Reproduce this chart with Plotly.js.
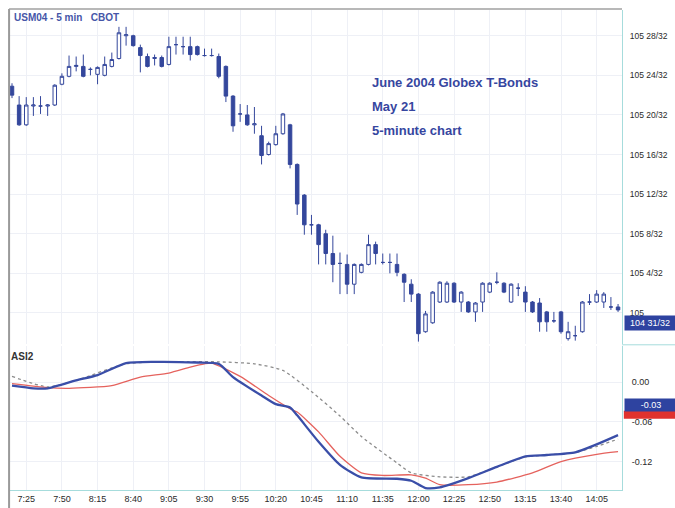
<!DOCTYPE html>
<html>
<head>
<meta charset="utf-8">
<script src="https://cdn.plot.ly/plotly-3.0.1.min.js"></script>
<style>
html,body{margin:0;padding:0;background:#fff;}
#chart{width:675px;height:508px;}
</style>
</head>
<body>
<div id="chart"></div>
<script>
// ---- DATA ----
// 5-minute bars, first bar at 7:15
const startHour = 7, startMinute = 15, barMinutes = 5;
// prices in 32nds above 105 (e.g. 28 = 105 28/32)
const open32  = [22.9,21.0,19.0,20.9,20.9,20.9,21.0,23.1,23.9,24.9,24.9,24.6,24.1,24.0,24.9,25.7,28.0,28.0,26.8,25.9,25.7,25.8,25.1,27.1,26.9,26.9,26.9,26.0,26.0,25.9,24.9,21.9,20.1,20.0,19.0,17.9,16.0,17.0,18.1,19.0,15.0,11.9,8.9,8.9,8.0,6.0,5.0,4.9,2.9,4.1,4.9,6.9,5.1,5.1,4.9,3.9,2.9,1.9,-1.9,-1.0,1.1,1.1,3.0,1.1,1.1,0.1,1.1,2.1,3.1,3.0,1.1,2.5,2.1,1.1,1.0,0.1,-0.8,0.1,-2.6,-2.3,-1.9,1.1,1.1,1.1,0.6,0.6];
const high32  = [23.2,21.9,21.8,21.8,21.9,21.1,23.1,24.2,26.0,25.9,26.1,24.8,24.9,25.9,26.3,28.9,28.9,28.1,27.1,26.2,26.1,26.0,27.9,27.9,27.9,27.9,27.0,26.7,26.7,26.2,25.0,22.0,21.1,21.0,20.8,18.9,17.3,18.9,20.2,19.1,15.1,12.0,9.9,9.0,8.4,7.8,6.1,5.9,5.0,5.0,7.9,7.2,6.0,6.0,6.0,4.0,3.4,2.0,0.2,2.2,3.2,3.2,3.1,2.2,1.2,1.1,3.1,3.1,4.1,3.1,3.0,3.0,2.7,1.2,1.5,0.2,0.1,0.2,-0.9,-1.3,1.2,1.9,2.3,2.1,1.6,0.9];
const low32   = [21.7,18.9,18.9,19.9,20.1,19.9,20.9,23.0,23.8,24.4,23.8,24.0,23.1,23.9,24.8,25.6,27.0,26.9,24.3,24.8,25.0,24.8,25.0,26.1,26.1,25.5,26.0,25.9,25.9,23.7,21.3,18.3,19.3,18.9,18.1,15.0,15.9,16.9,18.0,14.6,9.9,7.9,7.9,4.9,4.9,3.1,1.9,1.9,1.9,4.0,4.8,4.9,4.9,4.0,3.7,1.1,1.1,-2.9,-2.0,-1.1,1.0,1.0,1.0,0.1,0.0,-0.9,0.1,2.0,2.9,2.0,1.0,1.7,0.1,0.0,-1.9,-1.9,-1.0,-2.1,-2.8,-2.8,-2.0,0.8,1.0,0.5,0.3,0.1];
const close32 = [22.0,19.0,21.0,21.0,20.9,21.0,23.0,23.9,24.9,25.0,23.9,24.6,24.8,25.1,25.6,28.3,28.1,27.0,26.0,24.9,25.8,24.9,26.9,27.1,26.9,26.1,26.1,26.0,26.0,23.9,21.9,18.9,20.1,19.0,19.1,15.9,17.1,18.1,20.1,15.0,11.0,8.9,8.9,6.9,6.0,4.9,5.0,2.9,4.9,4.9,6.9,6.0,5.1,5.1,4.1,3.1,1.9,-2.1,-0.1,2.1,3.1,3.0,1.1,2.1,0.1,1.0,3.0,3.0,3.1,2.1,2.9,2.5,1.1,0.1,-0.9,-0.9,-0.8,-1.9,-1.9,-2.3,1.1,1.1,1.9,1.9,0.6,0.3];

const priceTickVals = [0,4,8,12,16,20,24,28];
const priceTickText = ['105','105 4/32','105 8/32','105 12/32','105 16/32','105 20/32','105 24/32','105 28/32'];
const lastPrice32 = -1, lastPriceText = '104 31/32';

const timeTickLabels = ['7:25','7:50','8:15','8:40','9:05','9:30','9:55','10:20','10:45','11:10','11:35','12:00','12:25','12:50','13:15','13:40','14:05'];

// ASI2 indicator (sampled)
const asiTimes = ['7:15','7:30','7:40','8:00','8:15','8:35','8:55','9:25','9:40','9:50','10:10','10:20','10:30','10:35','10:50','11:05','11:20','11:45','11:55','12:05','12:15','12:35','12:55','13:15','13:30','13:50','14:05','14:20'];
const asiValues = [-0.005,-0.009,-0.009,0.003,0.011,0.029,0.031,0.030,0.028,0.008,-0.020,-0.033,-0.038,-0.050,-0.090,-0.125,-0.144,-0.146,-0.149,-0.160,-0.159,-0.145,-0.128,-0.112,-0.110,-0.106,-0.094,-0.080];

const redTimes = ['7:15','7:40','7:55','8:25','8:45','9:05','9:20','9:30','9:35','9:55','10:15','10:30','10:35','10:50','11:05','11:20','11:35','11:55','12:05','12:15','12:35','12:55','13:20','13:40','14:05','14:20'];
const redValues = [-0.002,-0.008,-0.009,-0.005,0.008,0.014,0.023,0.028,0.029,0.009,-0.020,-0.040,-0.045,-0.075,-0.112,-0.137,-0.141,-0.140,-0.145,-0.155,-0.155,-0.151,-0.137,-0.120,-0.109,-0.105];

const greyTimes = ['7:15','7:40','8:00','8:35','9:10','9:40','10:05','10:25','10:45','11:05','11:20','11:45','11:55','12:15','12:35','12:55','13:15','13:30','13:50','14:05','14:20'];
const greyValues = [0.009,-0.007,0.003,0.028,0.031,0.031,0.028,0.018,-0.014,-0.051,-0.082,-0.122,-0.137,-0.143,-0.143,-0.128,-0.113,-0.110,-0.106,-0.097,-0.086];

const asiTickVals = [0, -0.06, -0.12];
const asiTickText = ['0.00', '-0.06', '-0.12'];
const asiBlueLabel = {value: -0.035, text: '-0.03'};
const asiRedLabelValue = -0.049;

const chartTitleLines = ['June 2004 Globex T-Bonds', 'May 21', '5-minute chart'];
const symbolText = 'USM04 - 5 min   CBOT';
const indicatorText = 'ASI2';

// ---- BUILD ----
const times = open32.map((_, i) => {
  const m = startHour * 60 + startMinute + i * barMinutes;
  const h = Math.floor(m / 60), mm = m % 60;
  return h + ':' + (mm < 10 ? '0' : '') + mm;
});

const BLUE = '#34479c';
const FONT = 'Liberation Sans, Arial, sans-serif';

const traces = [
  {
    type: 'candlestick', x: times, open: open32, high: high32, low: low32, close: close32,
    xaxis: 'x', yaxis: 'y',
    increasing: {line: {color: BLUE, width: 1}, fillcolor: '#ffffff'},
    decreasing: {line: {color: BLUE, width: 1}, fillcolor: BLUE},
    whiskerwidth: 0, hoverinfo: 'skip', showlegend: false
  },
  {
    type: 'scatter', mode: 'lines', x: greyTimes, y: greyValues, xaxis: 'x', yaxis: 'y2',
    line: {color: '#8c8c8c', width: 1.3, dash: 'dot', shape: 'spline', smoothing: 0.6},
    hoverinfo: 'skip', showlegend: false
  },
  {
    type: 'scatter', mode: 'lines', x: redTimes, y: redValues, xaxis: 'x', yaxis: 'y2',
    line: {color: '#e5625d', width: 1.3, shape: 'spline', smoothing: 0.6},
    hoverinfo: 'skip', showlegend: false
  },
  {
    type: 'scatter', mode: 'lines', x: asiTimes, y: asiValues, xaxis: 'x', yaxis: 'y2',
    line: {color: '#3a4ea8', width: 2.3, shape: 'spline', smoothing: 0.6},
    hoverinfo: 'skip', showlegend: false
  }
];

const PLOT_W = 612;
const TEAL = '#a6dcdc';
const xr0 = -0.28, xr1 = xr0 + PLOT_W / 7.13;

const annotations = [];
chartTitleLines.forEach((t, k) => {
  annotations.push({
    xref: 'paper', yref: 'paper', x: 0.588, y: 0.848 - k * 0.05,
    xanchor: 'left', yanchor: 'middle', showarrow: false, text: t,
    font: {family: FONT, size: 13, color: '#3646a0', weight: 'bold'}
  });
});
annotations.push({
  xref: 'paper', yref: 'paper', x: 0.003, y: 0.985, xanchor: 'left', yanchor: 'middle',
  showarrow: false, text: symbolText, font: {family: FONT, size: 10, color: '#4656a8', weight: 'bold'}
});
annotations.push({
  xref: 'paper', yref: 'paper', x: -0.002, y: 0.279, xanchor: 'left', yanchor: 'middle',
  showarrow: false, text: indicatorText, font: {family: FONT, size: 10, color: '#333333', weight: 'bold'}
});
annotations.push({
  xref: 'paper', yref: 'y', x: 1, xshift: 2, y: lastPrice32, xanchor: 'left', yanchor: 'middle',
  showarrow: false, text: lastPriceText, bgcolor: '#2e43a0', width: 48, height: 12,
  font: {family: FONT, size: 9, color: '#ffffff'}
});

const layout = {
  width: 675, height: 508,
  margin: {l: 10, r: 53, t: 10, b: 18, pad: 0},
  paper_bgcolor: '#ffffff', plot_bgcolor: '#ffffff',
  font: {family: FONT, size: 9, color: '#2a2a2a'},
  showlegend: false,
  xaxis: {
    type: 'category', anchor: 'y2', range: [xr0, xr1],
    rangeslider: {visible: false},
    tickmode: 'array', tickvals: timeTickLabels, ticktext: timeTickLabels,
    ticks: '', showgrid: true, gridcolor: '#eef0f6', gridwidth: 1,
    showline: true, linecolor: TEAL, linewidth: 1,
    tickfont: {family: FONT, size: 9, color: '#2a2a2a'}, fixedrange: true
  },
  yaxis: {
    domain: [0.305, 1], side: 'right', range: [-3.1, 30.6],
    tickmode: 'array', tickvals: priceTickVals, ticktext: priceTickText,
    ticks: '', showgrid: true, gridcolor: '#eef0f6', zeroline: false,
    showline: true, linecolor: TEAL, linewidth: 1, ticklabelstandoff: 5,
    tickfont: {family: FONT, size: 8.5, color: '#2a2a2a'}, fixedrange: true
  },
  yaxis2: {
    domain: [0, 0.3], side: 'right', range: [-0.163, 0.055],
    tickmode: 'array', tickvals: asiTickVals, ticktext: asiTickText,
    ticks: '', showgrid: true, gridcolor: '#eef0f6', zeroline: false,
    showline: true, linecolor: TEAL, linewidth: 1, ticklabelstandoff: 7,
    tickfont: {family: FONT, size: 9, color: '#2a2a2a'}, fixedrange: true
  },
  shapes: [
    {type: 'line', xref: 'paper', yref: 'paper', x0: -0.0015, x1: -0.0015, y0: -0.04, y1: 1.002, line: {color: '#9a9a9a', width: 2}},
    {type: 'line', xref: 'paper', yref: 'paper', x0: -0.0015, x1: 1, y0: 1.002, y1: 1.002, line: {color: '#a0a0a0', width: 1.5}},
    {type: 'line', xref: 'paper', yref: 'paper', x0: 1, x1: 1.087, y0: 0.3025, y1: 0.3025, line: {color: TEAL, width: 1}},
    // red and blue value markers on the ASI axis
    {type: 'rect', xref: 'paper', yref: 'y2', x0: 1.003, x1: 1.087, y0: asiRedLabelValue - 0.006, y1: asiRedLabelValue + 0.006, line: {width: 0}, fillcolor: '#e0322e', layer: 'above'}
  ],
  annotations: annotations.concat([{
    xref: 'paper', yref: 'y2', x: 1, xshift: 2, y: asiBlueLabel.value, xanchor: 'left', yanchor: 'middle',
    showarrow: false, text: asiBlueLabel.text, bgcolor: '#2e43a0', width: 50, height: 10,
    font: {family: FONT, size: 9, color: '#ffffff'}
  }])
};

Plotly.newPlot('chart', traces, layout, {staticPlot: true, displayModeBar: false});
</script>
</body>
</html>
